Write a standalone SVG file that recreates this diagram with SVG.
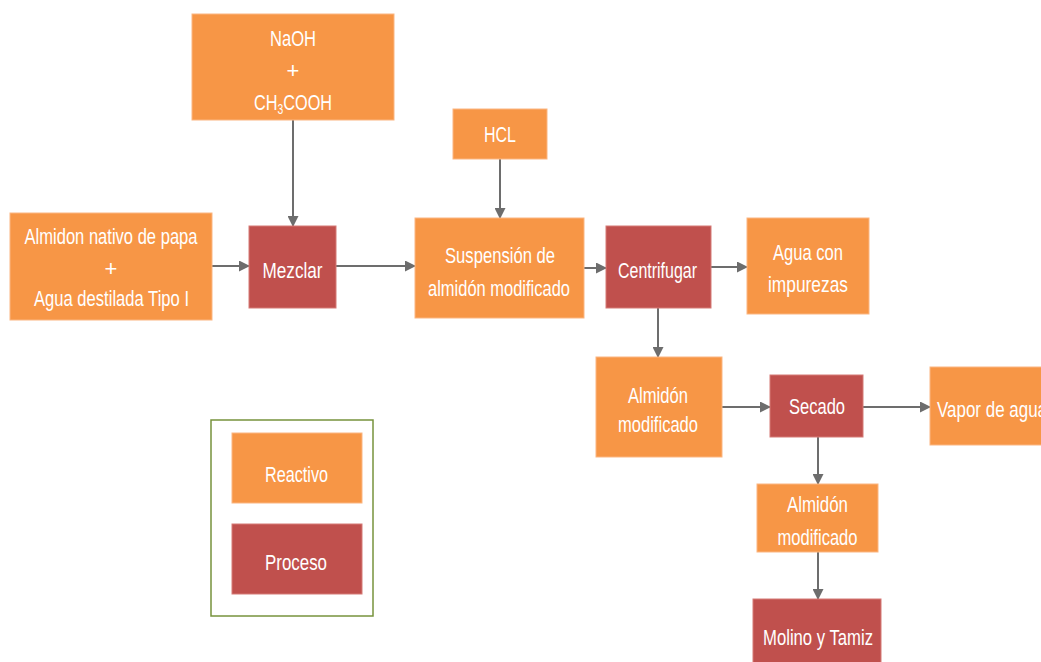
<svg xmlns="http://www.w3.org/2000/svg" width="1041" height="662" viewBox="0 0 1041 662">
<defs>
<marker id="arr" markerWidth="11" markerHeight="11" refX="10" refY="5.5" orient="auto" markerUnits="userSpaceOnUse">
<path d="M0,0 L11,5.5 L0,11 Z" fill="#6d6d6d"/>
</marker>
<style>
.r{fill:#F79646;stroke:#fbb681;stroke-width:1}
.p{fill:#C0504D;stroke:#d57a77;stroke-width:1}
.t{fill:#ffffff;font-family:"Liberation Sans",Arial,sans-serif;font-size:22px;text-anchor:middle}
.c{fill:none;stroke:#6d6d6d;stroke-width:2;marker-end:url(#arr)}
</style>
</defs>
<rect width="1041" height="662" fill="#ffffff"/>
<g id="connectors">
<path class="c" d="M293,120 V226"/>
<path class="c" d="M212,266 H249"/>
<path class="c" d="M336,266 H415"/>
<path class="c" d="M500,159 V218"/>
<path class="c" d="M584,268 H606"/>
<path class="c" d="M711,267 H747"/>
<path class="c" d="M658,308 V357"/>
<path class="c" d="M722,407 H770"/>
<path class="c" d="M863,407 H930"/>
<path class="c" d="M818,437 V484"/>
<path class="c" d="M818,552 V599"/>
</g>
<g id="naoh">
<rect class="r" x="192" y="14" width="202" height="106"/>
<text class="t" x="293" y="46" textLength="46" lengthAdjust="spacingAndGlyphs">NaOH</text>
<text class="t" x="293" y="78">+</text>
<text class="t" transform="translate(293,110) scale(0.74,1)">CH<tspan font-size="14" dy="4">3</tspan><tspan dy="-4">COOH</tspan></text>
</g>
<g id="almidon-nativo">
<rect class="r" x="10" y="213" width="202" height="107"/>
<text class="t" x="111" y="244" textLength="173" lengthAdjust="spacingAndGlyphs">Almidon nativo de papa</text>
<text class="t" x="111" y="276">+</text>
<text class="t" x="111.5" y="306" textLength="155" lengthAdjust="spacingAndGlyphs">Agua destilada Tipo I</text>
</g>
<g id="mezclar">
<rect class="p" x="249" y="226" width="87" height="82"/>
<text class="t" x="292.5" y="278" textLength="60" lengthAdjust="spacingAndGlyphs">Mezclar</text>
</g>
<g id="hcl">
<rect class="r" x="453" y="109" width="94" height="50"/>
<text class="t" x="500" y="142" textLength="32" lengthAdjust="spacingAndGlyphs">HCL</text>
</g>
<g id="suspension">
<rect class="r" x="415" y="218" width="169" height="100"/>
<text class="t" x="500" y="263" textLength="110" lengthAdjust="spacingAndGlyphs">Suspensión de</text>
<text class="t" x="499" y="296" textLength="142" lengthAdjust="spacingAndGlyphs">almidón modificado</text>
</g>
<g id="centrifugar">
<rect class="p" x="606" y="226" width="105" height="82"/>
<text class="t" x="657.5" y="278" textLength="79" lengthAdjust="spacingAndGlyphs">Centrifugar</text>
</g>
<g id="agua-impurezas">
<rect class="r" x="747" y="218" width="122" height="96"/>
<text class="t" x="808" y="260" textLength="70" lengthAdjust="spacingAndGlyphs">Agua con</text>
<text class="t" x="808" y="292" textLength="80" lengthAdjust="spacingAndGlyphs">impurezas</text>
</g>
<g id="almidon-modificado-1">
<rect class="r" x="596" y="357" width="126" height="100"/>
<text class="t" x="658" y="403" textLength="60" lengthAdjust="spacingAndGlyphs">Almidón</text>
<text class="t" x="658" y="432" textLength="80" lengthAdjust="spacingAndGlyphs">modificado</text>
</g>
<g id="secado">
<rect class="p" x="770" y="375" width="93" height="62"/>
<text class="t" x="817" y="414" textLength="56" lengthAdjust="spacingAndGlyphs">Secado</text>
</g>
<g id="vapor">
<rect class="r" x="930" y="367" width="118" height="78"/>
<text class="t" x="937" y="417" style="text-anchor:start" textLength="110" lengthAdjust="spacingAndGlyphs">Vapor de agua</text>
</g>
<g id="almidon-modificado-2">
<rect class="r" x="757" y="484" width="121" height="68"/>
<text class="t" x="817.5" y="512" textLength="61" lengthAdjust="spacingAndGlyphs">Almidón</text>
<text class="t" x="817.5" y="545" textLength="80" lengthAdjust="spacingAndGlyphs">modificado</text>
</g>
<g id="molino">
<rect class="p" x="753" y="599" width="128" height="70"/>
<text class="t" x="818" y="645" textLength="110" lengthAdjust="spacingAndGlyphs">Molino y Tamiz</text>
</g>
<g id="legend">
<rect x="211" y="420" width="162" height="196" fill="none" stroke="#77933C" stroke-width="1.5"/>
<rect class="r" x="232" y="433" width="130" height="70"/>
<text class="t" x="296.5" y="482" textLength="63" lengthAdjust="spacingAndGlyphs">Reactivo</text>
<rect class="p" x="232" y="524" width="130" height="70"/>
<text class="t" x="296" y="570" textLength="62" lengthAdjust="spacingAndGlyphs">Proceso</text>
</g>
</svg>
